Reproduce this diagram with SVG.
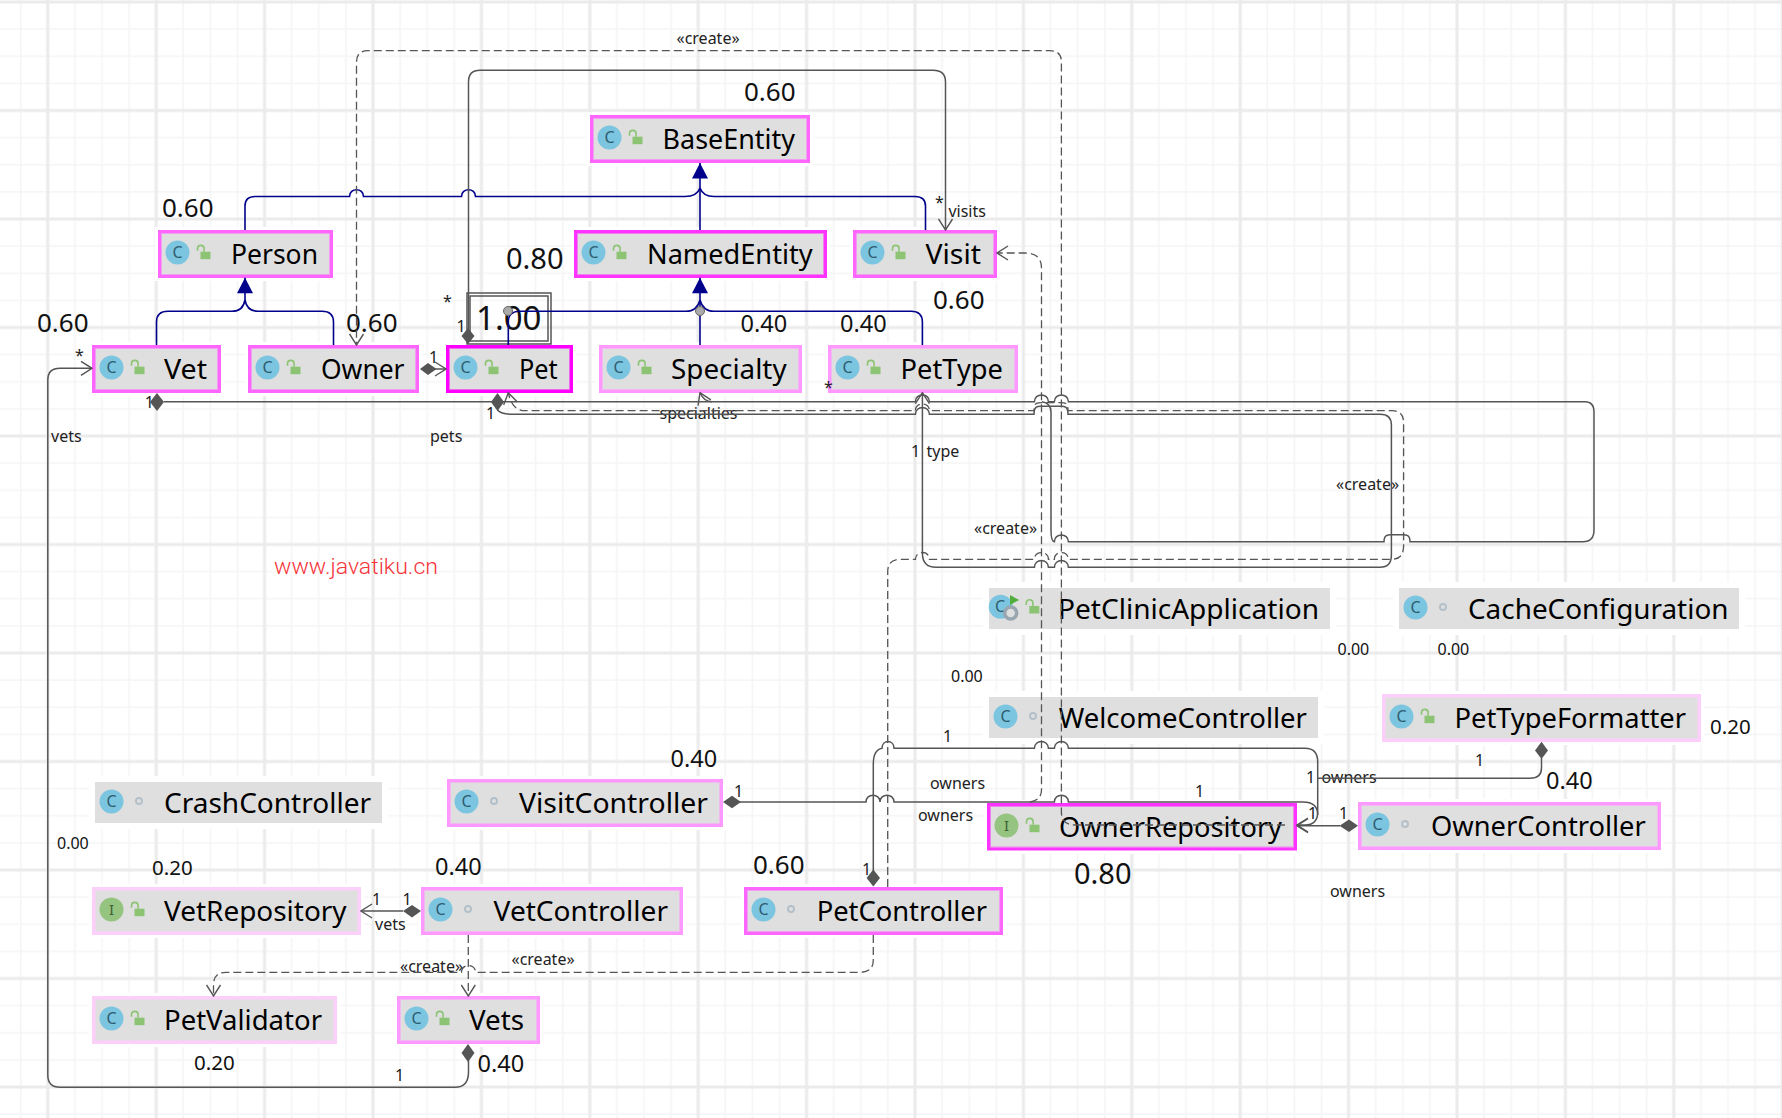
<svg xmlns="http://www.w3.org/2000/svg" width="1782" height="1118" viewBox="0 0 1782 1118">
<style>
text{font-family:"Noto Sans","DejaVu Sans",sans-serif;fill:#111}
.n{font-size:28px;fill:#000;transform:translateY(1px)}
.l{font-size:16px;fill:#222}
.s16{font-size:16px}.s20{font-size:20.5px;transform:translateY(.8px)}.s23{font-size:23.5px}.s26{font-size:26px}.s29{font-size:29px}.s33{font-size:33px}
.wm{font-family:"Roboto","Liberation Sans",sans-serif;font-size:22px;font-weight:300;fill:#f5333a}
.halo{fill:#fff}
.body{fill:#dfdfdf;stroke-width:3}
.i100{stroke:#ff00ff}.i80{stroke:#ff33ff}.i60{stroke:#ff66ff}.i40{stroke:#ff99ff}.i20{stroke:#fcd0fa}.i00{stroke:#fff}
.in{fill:none;stroke-width:1;stroke-opacity:.55}
.cc{fill:#7cc5e0}.ci{fill:#95c480}
.g{font-size:16px;fill:#2f5d70;text-anchor:middle}
.gi{font-size:15px;fill:#3f5f35;text-anchor:middle}
.solid{fill:none;stroke:#555;stroke-width:1.5}
.dash{fill:none;stroke:#555;stroke-width:1.3;stroke-dasharray:8 4}
.blue{fill:none;stroke:#00008b;stroke-width:1.6}
.dia{fill:#555}
.jt{fill:#aaa;stroke:#666;stroke-width:1}
</style>
<defs>
<pattern id="grid" patternUnits="userSpaceOnUse" width="108.4" height="108.5" patternTransform="translate(47.8 2)">
<rect width="108.4" height="108.5" fill="#fff"/>
<path d="M27.1 0V108.5M54.2 0V108.5M81.3 0V108.5M0 27.1H108.4M0 54.2H108.4M0 81.4H108.4" stroke="#f5f5f5" stroke-width="1.5" fill="none"/>
<path d="M0 0V108.5M108.4 0V108.5M0 0H108.4M0 108.5H108.4" stroke="#ebebeb" stroke-width="3" fill="none"/>
</pattern>
<marker id="open" viewBox="-12 -8 13 16" refX="0" refY="0" markerWidth="13" markerHeight="16" markerUnits="userSpaceOnUse" orient="auto"><path d="M-11 -7L0 0L-11 7" fill="none" stroke="#555" stroke-width="1.4"/></marker>
<marker id="tri" viewBox="-16 -9 17 18" refX="0" refY="0" markerWidth="17" markerHeight="18" markerUnits="userSpaceOnUse" orient="auto"><path d="M-15.5 -8L0 0L-15.5 8Z" fill="#00008b"/></marker>
<g id="lock"><rect x="0" y="0" width="10" height="7.5" fill="#8cc474"/><path d="M-3 -1V-3a3.3 3.3 0 0 1 6.6 0V0" fill="none" stroke="#8cc474" stroke-width="1.6"/></g>
<g id="ic"><circle cx="19.5" cy="22.5" r="12" class="cc"/><text x="19.5" y="28" class="g">C</text></g>
<g id="ii"><circle cx="19.5" cy="22.5" r="12" class="ci"/><text x="19.5" y="28" class="gi">I</text></g>
<circle id="dot" cx="47" cy="22" r="3" fill="none" stroke="#b3c0c9" stroke-width="2"/>
</defs>
<rect width="1782" height="1118" fill="url(#grid)"/>

<g id="node-Person" transform="translate(158 230)"><rect class="halo" x="-3" y="-3" width="181" height="54"/><rect class="body i60" x="1.5" y="1.5" width="172" height="45"/><rect class="in i60" x="3.5" y="3.5" width="168" height="41"/><use href="#ic"/><use href="#lock" x="42.5" y="21.7"/><text class="n" x="73" y="33" textLength="87" lengthAdjust="spacingAndGlyphs">Person</text></g>
<g id="node-Vet" transform="translate(92 345)"><rect class="halo" x="-3" y="-3" width="135" height="54"/><rect class="body i60" x="1.5" y="1.5" width="126" height="45"/><rect class="in i60" x="3.5" y="3.5" width="122" height="41"/><use href="#ic"/><use href="#lock" x="42.5" y="21.7"/><text class="n" x="72" y="33" textLength="43" lengthAdjust="spacingAndGlyphs">Vet</text></g>
<g id="node-Owner" transform="translate(248 345)"><rect class="halo" x="-3" y="-3" width="177" height="54"/><rect class="body i60" x="1.5" y="1.5" width="168" height="45"/><rect class="in i60" x="3.5" y="3.5" width="164" height="41"/><use href="#ic"/><use href="#lock" x="42.5" y="21.7"/><text class="n" x="73" y="33" textLength="83.5" lengthAdjust="spacingAndGlyphs">Owner</text></g>
<g id="node-Pet" transform="translate(446 345)"><rect class="halo" x="-3" y="-3" width="133" height="54"/><rect class="body i100" x="1.5" y="1.5" width="124" height="45"/><rect class="in i100" x="3.5" y="3.5" width="120" height="41"/><use href="#ic"/><use href="#lock" x="42.5" y="21.7"/><text class="n" x="73" y="33" textLength="38.6" lengthAdjust="spacingAndGlyphs">Pet</text></g>
<g id="node-BaseEntity" transform="translate(590 115)"><rect class="halo" x="-3" y="-3" width="226" height="54"/><rect class="body i60" x="1.5" y="1.5" width="217" height="45"/><rect class="in i60" x="3.5" y="3.5" width="213" height="41"/><use href="#ic"/><use href="#lock" x="42.5" y="21.7"/><text class="n" x="72.6" y="33" textLength="132.4" lengthAdjust="spacingAndGlyphs">BaseEntity</text></g>
<g id="node-NamedEntity" transform="translate(574 230)"><rect class="halo" x="-3" y="-3" width="259" height="54"/><rect class="body i80" x="1.5" y="1.5" width="250" height="45"/><rect class="in i80" x="3.5" y="3.5" width="246" height="41"/><use href="#ic"/><use href="#lock" x="42.5" y="21.7"/><text class="n" x="73" y="33" textLength="165.6" lengthAdjust="spacingAndGlyphs">NamedEntity</text></g>
<g id="node-Visit" transform="translate(853 230)"><rect class="halo" x="-3" y="-3" width="150" height="54"/><rect class="body i60" x="1.5" y="1.5" width="141" height="45"/><rect class="in i60" x="3.5" y="3.5" width="137" height="41"/><use href="#ic"/><use href="#lock" x="42.5" y="21.7"/><text class="n" x="72.5" y="33" textLength="55.5" lengthAdjust="spacingAndGlyphs">Visit</text></g>
<g id="node-Specialty" transform="translate(599 345)"><rect class="halo" x="-3" y="-3" width="209" height="54"/><rect class="body i40" x="1.5" y="1.5" width="200" height="45"/><rect class="in i40" x="3.5" y="3.5" width="196" height="41"/><use href="#ic"/><use href="#lock" x="42.5" y="21.7"/><text class="n" x="72" y="33" textLength="115.6" lengthAdjust="spacingAndGlyphs">Specialty</text></g>
<g id="node-PetType" transform="translate(828 345)"><rect class="halo" x="-3" y="-3" width="196" height="54"/><rect class="body i40" x="1.5" y="1.5" width="187" height="45"/><rect class="in i40" x="3.5" y="3.5" width="183" height="41"/><use href="#ic"/><use href="#lock" x="42.5" y="21.7"/><text class="n" x="72.6" y="33" textLength="102.4" lengthAdjust="spacingAndGlyphs">PetType</text></g>
<g id="node-PetClinicApplication" transform="translate(986 585)"><rect class="halo" x="-3" y="-3" width="353" height="53"/><rect class="body i00" x="1.5" y="1.5" width="344" height="44"/><circle cx="14.7" cy="21.7" r="12" class="cc"/><text x="14" y="27" class="g">C</text><path d="M24 10L33 15L24 20Z" fill="#4fae3c"/><circle cx="24.7" cy="28" r="6" fill="#dfdfdf" stroke="#98a6b0" stroke-width="3.5"/><use href="#lock" x="43.3" y="21"/><text class="n" x="72" y="33" textLength="261" lengthAdjust="spacingAndGlyphs">PetClinicApplication</text></g>
<g id="node-CacheConfiguration" transform="translate(1396 585)"><rect class="halo" x="-3" y="-3" width="352" height="53"/><rect class="body i00" x="1.5" y="1.5" width="343" height="44"/><use href="#ic"/><use href="#dot"/><text class="n" x="72" y="33" textLength="260.5" lengthAdjust="spacingAndGlyphs">CacheConfiguration</text></g>
<g id="node-WelcomeController" transform="translate(986 694)"><rect class="halo" x="-3" y="-3" width="341" height="53"/><rect class="body i00" x="1.5" y="1.5" width="332" height="44"/><use href="#ic"/><use href="#dot"/><text class="n" x="72.7" y="33" textLength="248.3" lengthAdjust="spacingAndGlyphs">WelcomeController</text></g>
<g id="node-PetTypeFormatter" transform="translate(1382 694)"><rect class="halo" x="-3" y="-3" width="325" height="54"/><rect class="body i20" x="1.5" y="1.5" width="316" height="45"/><rect class="in i20" x="3.5" y="3.5" width="312" height="41"/><use href="#ic"/><use href="#lock" x="42.5" y="21.7"/><text class="n" x="72.5" y="33" textLength="231.5" lengthAdjust="spacingAndGlyphs">PetTypeFormatter</text></g>
<g id="node-OwnerRepository" transform="translate(987 803)"><rect class="halo" x="-3" y="-3" width="316" height="54"/><rect class="body i80" x="1.5" y="1.5" width="307" height="44.5"/><rect class="in i80" x="3.5" y="3.5" width="303" height="40.5"/><use href="#ii"/><use href="#lock" x="42.5" y="21.7"/><text class="n" x="72" y="33" textLength="223" lengthAdjust="spacingAndGlyphs">OwnerRepository</text></g>
<g id="node-OwnerController" transform="translate(1358 802)"><rect class="halo" x="-3" y="-3" width="309" height="54"/><rect class="body i40" x="1.5" y="1.5" width="300" height="45"/><rect class="in i40" x="3.5" y="3.5" width="296" height="41"/><use href="#ic"/><use href="#dot"/><text class="n" x="73" y="33" textLength="214.7" lengthAdjust="spacingAndGlyphs">OwnerController</text></g>
<g id="node-CrashController" transform="translate(92 779)"><rect class="halo" x="-3" y="-3" width="299" height="53"/><rect class="body i00" x="1.5" y="1.5" width="290" height="44"/><use href="#ic"/><use href="#dot"/><text class="n" x="72" y="33" textLength="207" lengthAdjust="spacingAndGlyphs">CrashController</text></g>
<g id="node-VisitController" transform="translate(447 779)"><rect class="halo" x="-3" y="-3" width="282" height="54"/><rect class="body i40" x="1.5" y="1.5" width="273" height="45"/><rect class="in i40" x="3.5" y="3.5" width="269" height="41"/><use href="#ic"/><use href="#dot"/><text class="n" x="72" y="33" textLength="189" lengthAdjust="spacingAndGlyphs">VisitController</text></g>
<g id="node-VetRepository" transform="translate(92 887)"><rect class="halo" x="-3" y="-3" width="275" height="54"/><rect class="body i20" x="1.5" y="1.5" width="266" height="45"/><rect class="in i20" x="3.5" y="3.5" width="262" height="41"/><use href="#ii"/><use href="#lock" x="42.5" y="21.7"/><text class="n" x="72" y="33" textLength="182.6" lengthAdjust="spacingAndGlyphs">VetRepository</text></g>
<g id="node-VetController" transform="translate(421 887)"><rect class="halo" x="-3" y="-3" width="268" height="54"/><rect class="body i40" x="1.5" y="1.5" width="259" height="45"/><rect class="in i40" x="3.5" y="3.5" width="255" height="41"/><use href="#ic"/><use href="#dot"/><text class="n" x="72.6" y="33" textLength="174.4" lengthAdjust="spacingAndGlyphs">VetController</text></g>
<g id="node-PetValidator" transform="translate(92 996)"><rect class="halo" x="-3" y="-3" width="251" height="54"/><rect class="body i20" x="1.5" y="1.5" width="242" height="45"/><rect class="in i20" x="3.5" y="3.5" width="238" height="41"/><use href="#ic"/><use href="#lock" x="42.5" y="21.7"/><text class="n" x="72" y="33" textLength="158" lengthAdjust="spacingAndGlyphs">PetValidator</text></g>
<g id="node-Vets" transform="translate(397 996)"><rect class="halo" x="-3" y="-3" width="149" height="54"/><rect class="body i40" x="1.5" y="1.5" width="140" height="45"/><rect class="in i40" x="3.5" y="3.5" width="136" height="41"/><use href="#ic"/><use href="#lock" x="42.5" y="21.7"/><text class="n" x="72" y="33" textLength="55" lengthAdjust="spacingAndGlyphs">Vets</text></g>
<g id="node-PetController" transform="translate(744 887)"><rect class="halo" x="-3" y="-3" width="265" height="54"/><rect class="body i60" x="1.5" y="1.5" width="256" height="45"/><rect class="in i60" x="3.5" y="3.5" width="252" height="41"/><use href="#ic"/><use href="#dot"/><text class="n" x="72.7" y="33" textLength="170.3" lengthAdjust="spacingAndGlyphs">PetController</text></g>

<g id="labels">
<rect x="467" y="293" width="84" height="51" fill="none" stroke="#555" stroke-width="1.5"/><rect x="470" y="296" width="78" height="45" fill="none" stroke="#555" stroke-width="1.5"/>
<text class="s33" x="476" y="330">1.00</text>
<text class="s26" x="162" y="216.7">0.60</text>
<text class="s26" x="37" y="331.7">0.60</text>
<text class="s26" x="346" y="331.7">0.60</text>
<text class="s29" x="506" y="268.5">0.80</text>
<text class="s26" x="744" y="101">0.60</text>
<text class="s23" x="740.5" y="332">0.40</text>
<text class="s23" x="840" y="332">0.40</text>
<text class="s26" x="933" y="309">0.60</text>
<text class="s16" x="1337.5" y="654.7">0.00</text>
<text class="s16" x="1437.5" y="654.7">0.00</text>
<text class="s20" x="1710" y="733">0.20</text>
<text class="s16" x="951" y="682">0.00</text>
<text class="s23" x="670.5" y="767">0.40</text>
<text class="s23" x="1546" y="789">0.40</text>
<text class="s29" x="1074" y="884">0.80</text>
<text class="s16" x="57" y="849">0.00</text>
<text class="s20" x="152" y="874.7">0.20</text>
<text class="s23" x="435" y="875">0.40</text>
<text class="s26" x="753" y="874">0.60</text>
<text class="s20" x="194" y="1069">0.20</text>
<text class="s23" x="477.5" y="1072">0.40</text>
<text class="l" x="676.5" y="44">«create»</text>
<text class="l" x="974" y="534">«create»</text>
<text class="l" x="1336" y="490">«create»</text>
<text class="l" x="400" y="972">«create»</text>
<text class="l" x="511.5" y="965">«create»</text>
<text class="l" x="51" y="441.7">vets</text>
<text class="l" x="430" y="441.7">pets</text>
<text class="l" x="75" y="361">*</text>
<text class="l" x="443" y="307">*</text>
<text class="l" x="456.5" y="332">1</text>
<text class="l" x="429" y="362.7">1</text>
<text class="l" x="144.7" y="408">1</text>
<text class="l" x="486" y="419">1</text>
<text class="l" x="935" y="208">*</text>
<text class="l" x="948.4" y="216.7">visits</text>
<text class="l" x="824" y="393">*</text>
<text class="l" x="659.5" y="419">specialties</text>
<text class="l" x="911" y="456.7">1</text>
<text class="l" x="926.6" y="456.7">type</text>
<text class="l" x="943" y="741.7">1</text>
<text class="l" x="930" y="789">owners</text>
<text class="l" x="1195" y="796.7">1</text>
<text class="l" x="918" y="820.7">owners</text>
<text class="l" x="1306" y="783">1</text>
<text class="l" x="1321.5" y="783">owners</text>
<text class="l" x="1475" y="765.7">1</text>
<text class="l" x="1308" y="819">1</text>
<text class="l" x="1339" y="819">1</text>
<text class="l" x="1330" y="897">owners</text>
<text class="l" x="862" y="875">1</text>
<text class="l" x="372" y="905">1</text>
<text class="l" x="402.6" y="905">1</text>
<text class="l" x="375" y="930">vets</text>
<text class="l" x="395" y="1080.7">1</text>
<text class="l" x="734" y="797">1</text>
<text class="wm" x="274" y="574" textLength="164" lengthAdjust="spacingAndGlyphs">www.javatiku.cn</text>
</g>

<g id="connectors">
<path class="blue" d="M245 230V206Q245 196.5 255 196.5H349.5c0-9 14-9 14 0H461.5c0-9 14-9 14 0H685Q697 196.5 700 188"/>
<path class="blue" d="M925.5 230V206Q925.5 196.5 915 196.5H714Q703 196.5 700 188"/>
<path class="blue" d="M700 230V163" marker-end="url(#tri)"/>
<path class="blue" d="M156.5 345V322Q156.5 311.3 168 311.3H232Q243 311.3 245 300V277.7" marker-end="url(#tri)"/>
<path class="blue" d="M333.5 345V322Q333.5 311.3 322 311.3H258Q247 311.3 245 300"/>
<path class="blue" d="M508.3 345V322Q508.3 311.3 520 311.3H686Q697 311.3 700 300"/>
<path class="blue" d="M700 345V277.7" marker-end="url(#tri)"/>
<path class="blue" d="M922.4 345V322Q922.4 311.3 911 311.3H714Q703 311.3 700 300"/>
<circle class="jt" cx="700" cy="311" r="4.5"/>
<circle class="jt" cx="508" cy="311" r="4.5"/>

<path class="solid" d="M468.5 330V82Q468.5 70.3 480 70.3H933Q945.5 70.3 945.5 82V230" marker-end="url(#open)"/>
<path class="dash" d="M1285 825H1075Q1061.4 825 1061.4 812V62Q1061.4 50.7 1050 50.7H368Q356.5 50.7 356.5 62V345" marker-end="url(#open)"/>
<path class="dash" d="M1030 802Q1041.5 800 1041.5 790V268Q1041.5 253 1025 253H997" marker-end="url(#open)"/>
<path class="solid" d="M164 401.7H915.4c0-9 14-9 14 0H1034.4c0-9 14-9 14 0H1054.4c0-9 14-9 14 0H1585Q1594 401.7 1594 412V530Q1594 541.7 1583 541.7H1410c0-7-4-7-7-7H1391c-3 0-7 0-7 7H1068.4c0-9-14-9-14 0Q1051 541.7 1051 530V412Q1051 403 1042 401.7"/>
<path class="solid" d="M712 401.7Q704 401.7 700 392.7" marker-end="url(#open)"/>
<path class="solid" d="M497.5 410Q501 414.3 512 414.3H915.4c0-9 14-9 14 0H1034c0-8 3-8 7-8H1061c4 0 7 0 7 8H1380Q1391.4 414.3 1391.4 425V555Q1391.4 567.3 1380 567.3H1068.4c0-9-14-9-14 0H1048.4c0-9-14-9-14 0H936Q922.4 567.3 922.4 553V392.7" marker-end="url(#open)"/>
<path class="dash" d="M887.7 887V572Q887.7 559.3 900 559.3H915.4c0-9 14-9 14 0H1034.4c0-9 14-9 14 0H1054.4c0-9 14-9 14 0H1392Q1403.6 559.3 1403.6 546V422Q1403.6 410.7 1392 410.7H1068c0-8-3-8-7-8H1041c-4 0-7 0-7 8H929.4c0-9-14-9-14 0H525Q512 410.7 508.3 392.7" marker-end="url(#open)"/>
<path class="dash" d="M873.3 935V960Q873.3 972.3 860 972.3H475.5c0-9-14-9-14 0H226Q213.5 972.3 213.5 985V996" marker-end="url(#open)"/>
<path class="dash" d="M468.3 935V996" marker-end="url(#open)"/>
<path class="solid" d="M403 911H361" marker-end="url(#open)"/>
<path class="solid" d="M468.5 1060V1072Q468.5 1087.3 455 1087.3H60Q47.8 1087.3 47.8 1075V380Q47.8 368.3 60 368.3H92" marker-end="url(#open)"/>
<path class="solid" d="M434 369H446" marker-end="url(#open)"/>
<path class="solid" d="M873.3 872V764Q873.3 750 882 748.3c0-9 12-9 12 0H1034.4c0-9 14-9 14 0H1054.4c0-9 14-9 14 0H1305Q1317.7 748.3 1317.7 762V812Q1317.7 825 1305 825H1297" marker-end="url(#open)"/>
<path class="solid" d="M740 802H866c0-9 14-9 14 0c0-9 14-9 14 0H1054.4c0-9 14-9 14 0H1303Q1317.7 802 1317.7 815"/>
<path class="solid" d="M1541.5 758V768Q1541.5 778.3 1530 778.3H1318"/>
<path class="solid" d="M1340 825.7H1297" marker-end="url(#open)"/>
<polygon class="dia" points="157,393 164,402 157,411 150,402"/>
<polygon class="dia" points="497.5,393 504,402 497.5,411 491,402"/>
<polygon class="dia" points="468,328 474.5,336 468,344 461.5,336"/>
<polygon class="dia" points="420,369 428,363 436.5,369 428,375"/>
<polygon class="dia" points="403,911 412,905 421,911 412,917.5"/>
<polygon class="dia" points="723,802 732,795.7 741,802 732,808.3"/>
<polygon class="dia" points="1339.5,825.7 1349,819.5 1358,825.7 1349,832"/>
<polygon class="dia" points="873.3,869.5 880,878 873.3,886.5 866.6,878"/>
<polygon class="dia" points="1541.5,741.7 1548,750.5 1541.5,759 1535,750.5"/>
<polygon class="dia" points="468,1044 474.5,1053 468,1062 461.5,1053"/>
</g>
</svg>
